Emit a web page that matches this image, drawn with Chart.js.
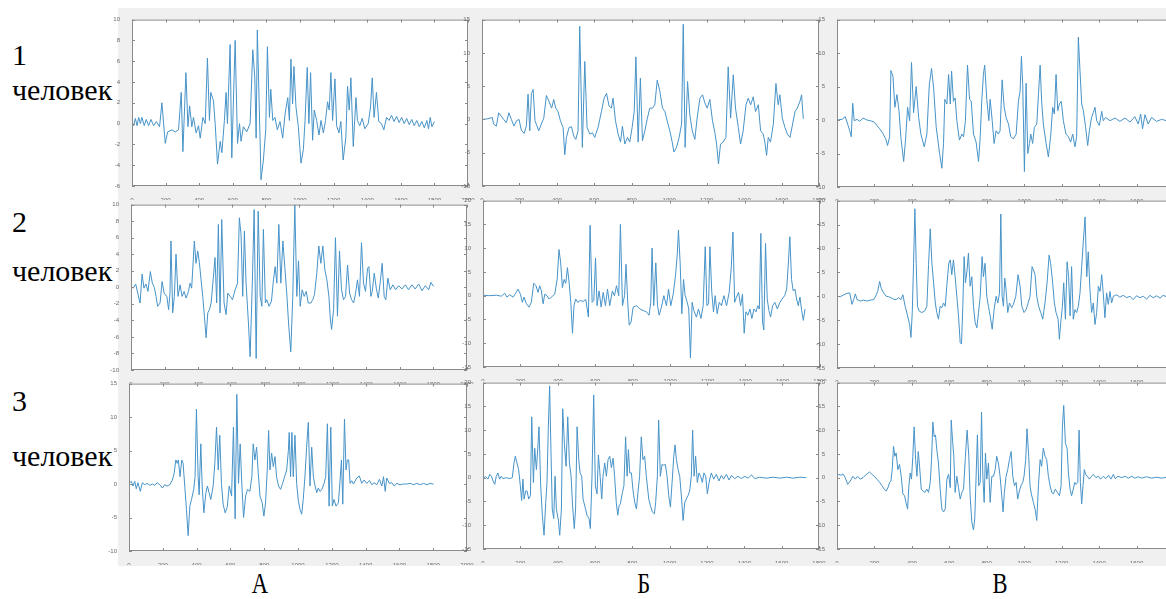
<!DOCTYPE html>
<html>
<head>
<meta charset="utf-8">
<script src="https://cdn.jsdelivr.net/npm/chart.js@4.4.1/dist/chart.umd.min.js"></script>
<style>
    body {
        margin: 0;
        width: 1166px;
        height: 599px;
        overflow: hidden;
        background: #fff;
        position: relative;
        font-family: "Liberation Serif", "DejaVu Serif", "Noto Serif", "Times New Roman", serif;
    }
    #backdrop {
        position: absolute;
        left: 118px;
        top: 8px;
        width: 1048px;
        height: 558px;
        background: #f0f0f0;
    }
    canvas { position: absolute; }
    .label {
        position: absolute;
        color: #000;
        font-size: 30px;
        line-height: 1;
        white-space: nowrap;
    }
    .col {
        position: absolute;
        color: #000;
        font-size: 30px;
        line-height: 1;
        transform: scaleX(0.75);
    }
</style>
</head>
<body>
<div id="backdrop"></div>

<div class="label" style="left:12px; top:40px;">1</div>
<div class="label" style="left:12px; top:75px;">человек</div>
<div class="label" style="left:12px; top:207px;">2</div>
<div class="label" style="left:12px; top:256px;">человек</div>
<div class="label" style="left:12px; top:386px;">3</div>
<div class="label" style="left:12px; top:441px;">человек</div>

<div class="col" style="left:249px; top:568px;">А</div>
<div class="col" style="left:635px; top:568px;">Б</div>
<div class="col" style="left:990px; top:568px;">В</div>

<script>
// signals: [sample, value]
const person1A = [[0,0.2],[10,-0.2],[20,0.5],[30,-0.2],[40,0.6],[50,0],[59,0.6],[73,-0.2],[85,0.4],[99,-0.2],[113,0.4],[129,-0.2],[145,0.2],[164,-0.3],[178,2.0],[198,-1.9],[212,-0.8],[238,-0.6],[257,-0.8],[277,-0.6],[293,3.0],[303,-2.7],[321,4.9],[333,-0.3],[343,1.7],[356,-0.3],[366,0.6],[382,-0.9],[396,-0.2],[406,-1.4],[422,0.6],[436,0],[449,6.3],[461,0.3],[469,3.0],[485,2.2],[495,0],[509,-3.9],[525,-1.7],[535,-2.8],[550,0.3],[560,3.0],[568,0],[584,7.6],[594,-3.3],[614,8.0],[628,-1.9],[640,0],[649,-1.7],[663,-0.3],[683,-0.8],[703,0],[719,7.1],[731,4.4],[739,-1.4],[746,9.0],[758,1.3],[768,-5.4],[782,-3.5],[796,-0.6],[806,7.4],[818,0.6],[826,3.3],[838,0.3],[851,0.6],[865,-0.6],[881,0.2],[897,-1.4],[911,0.9],[927,2.5],[937,0.3],[946,6.2],[956,1.9],[964,5.5],[976,1.6],[990,-0.3],[1006,-3.8],[1020,-2.5],[1030,0.3],[1043,5.4],[1053,0],[1063,4.9],[1075,-1.6],[1085,1.3],[1099,0.3],[1113,-1.1],[1125,0.3],[1139,-0.9],[1152,0.3],[1164,2.1],[1174,1.3],[1184,4.9],[1194,0.3],[1208,4.3],[1218,-0.2],[1232,-0.9],[1243,0.2],[1257,-3.5],[1273,-1.3],[1283,3.6],[1293,1.3],[1303,4.4],[1317,-2.2],[1333,2.5],[1342,0.3],[1356,-0.2],[1370,0.5],[1386,-0.5],[1406,0],[1420,1.6],[1430,4.4],[1441,0.6],[1455,3.0],[1469,0.2],[1485,0],[1499,-0.6],[1515,0.6],[1530,0.3],[1545,0.8],[1560,0.2],[1575,0.7],[1590,0.1],[1605,0.6],[1620,0],[1635,0.5],[1650,-0.1],[1665,0.4],[1680,-0.2],[1695,0.3],[1710,-0.3],[1725,0.2],[1740,-0.4],[1755,0.3],[1765,-0.5],[1775,0.6],[1785,-0.3],[1800,0.2]];

const person1B = [[0,0],[32,0.1],[55,0.3],[62,-0.7],[77,-1.0],[89,1.0],[103,0.5],[116,0],[130,-0.5],[144,1.0],[157,0],[171,-1.0],[184,-0.2],[198,0],[210,-1.6],[225,-2.1],[237,-1.0],[246,3.8],[255,-1.7],[264,3.9],[273,4.5],[283,-0.2],[290,-0.7],[303,-1.7],[317,-0.7],[330,0.2],[344,3.6],[358,2.7],[372,1.7],[383,3.0],[394,1.7],[406,1.2],[419,-0.2],[433,-1.2],[442,-5.3],[451,-2.7],[465,-1.2],[478,-1.1],[490,-2.5],[501,-3.0],[513,-1.7],[522,14.0],[536,-4.2],[549,8.7],[561,-1.2],[576,-2.2],[590,-2.0],[602,-2.7],[620,-1.2],[638,1.2],[652,3.2],[665,3.9],[679,2.0],[691,1.7],[700,3.2],[713,-0.2],[727,-2.2],[740,-3.4],[750,-1.0],[763,-3.7],[777,-2.7],[789,-3.4],[802,-1.2],[813,1.2],[822,9.4],[834,-3.4],[846,6.2],[857,-3.2],[870,-1.7],[882,0],[896,1.7],[911,1.7],[923,2.2],[936,5.9],[950,4.2],[964,1.7],[977,1.2],[989,-0.2],[1003,-1.7],[1016,-3.4],[1025,-4.9],[1039,-4.2],[1053,-2.7],[1066,-0.7],[1075,14.3],[1085,-4.2],[1098,5.7],[1110,0.7],[1123,-1.7],[1137,-3.0],[1149,0.2],[1164,3.2],[1178,3.7],[1190,2.5],[1203,1.7],[1217,3.0],[1231,-0.2],[1244,-2.0],[1253,-3.7],[1263,-6.7],[1274,-3.7],[1288,-3.4],[1303,-2.7],[1315,7.9],[1328,0.2],[1342,6.7],[1354,1.7],[1369,-1.2],[1381,-3.7],[1395,-1.7],[1410,2.2],[1422,3.2],[1435,2.2],[1449,3.4],[1461,1.2],[1476,2.2],[1488,-1.7],[1502,-2.2],[1511,-3.4],[1520,-5.4],[1529,-2.7],[1541,-3.4],[1556,-0.7],[1570,5.4],[1582,2.2],[1591,3.7],[1604,0.2],[1618,-1.2],[1631,-2.2],[1645,-2.7],[1657,-1.0],[1672,1.2],[1684,1.7],[1698,2.7],[1707,3.7],[1716,0.1]];

const person1C = [[0,0],[27,0.1],[44,0.5],[57,-0.6],[68,-1.6],[76,-2.5],[84,2.5],[92,-0.1],[107,0.1],[121,-0.2],[139,0.3],[160,0],[178,-0.1],[199,-0.3],[213,-0.8],[228,-1.3],[245,-2.0],[260,-2.8],[270,-3.8],[281,-2.5],[288,7.4],[299,6.5],[309,1.9],[320,3.8],[331,1.4],[341,-2.5],[356,-6.2],[366,-3.0],[377,1.9],[388,-0.1],[398,8.6],[409,1.1],[423,5.0],[436,0.4],[448,-2.1],[466,-4.0],[480,-2.1],[493,5.3],[505,7.7],[516,4.8],[530,-1.1],[548,-5.0],[560,-7.2],[569,-3.5],[576,3.1],[587,2.4],[596,6.8],[605,2.4],[612,7.3],[622,2.8],[631,3.3],[640,-0.1],[654,-3.0],[667,-2.1],[676,-2.5],[686,-0.1],[697,8.2],[708,3.1],[717,2.8],[729,-2.1],[743,-3.3],[756,-6.2],[765,-2.5],[773,2.8],[782,6.8],[789,8.2],[800,3.1],[811,-0.1],[818,3.1],[829,-0.1],[839,-3.5],[850,-1.6],[862,-2.1],[871,-1.6],[882,6.0],[893,1.9],[903,0.4],[916,-0.6],[928,-2.5],[942,-2.8],[957,-2.1],[969,2.8],[978,4.3],[985,9.5],[992,5.3],[1001,-7.7],[1010,5.5],[1019,-5.0],[1028,-3.5],[1035,-2.1],[1045,-3.5],[1054,-1.1],[1067,-0.6],[1076,3.8],[1085,8.2],[1093,2.8],[1102,-0.6],[1117,-3.5],[1129,-5.5],[1141,-2.5],[1152,1.9],[1161,0.9],[1170,6.8],[1179,1.4],[1188,2.4],[1198,2.8],[1209,-0.1],[1223,-2.1],[1236,-2.5],[1248,-3.3],[1259,-2.1],[1271,-4.0],[1280,-2.5],[1289,12.4],[1298,7.3],[1307,2.4],[1316,1.4],[1328,-1.1],[1339,-3.8],[1348,-1.6],[1360,0.4],[1369,1.1],[1378,1.9],[1387,-0.1],[1401,-0.8],[1414,1.3],[1422,-0.1],[1435,0.4],[1458,-0.1],[1485,0.3],[1511,-0.2],[1538,0.3],[1565,-0.3],[1591,0.5],[1609,-0.6],[1622,0.9],[1632,-1.3],[1645,0.8],[1662,-0.6],[1680,0.4],[1707,-0.2],[1734,0.1],[1760,-0.1]];

const person2A = [[0,0.1],[14,-0.1],[28,0.4],[40,-0.7],[54,-1.9],[66,1.6],[77,-0.1],[89,0.4],[101,-0.5],[115,1.9],[127,0.5],[139,0],[149,-1.1],[159,-2.3],[173,-1.9],[185,0.7],[197,-0.7],[213,-1.1],[224,-2.7],[232,-0.7],[238,5.6],[248,-3.1],[258,-1.1],[268,4.0],[280,-1.1],[292,0.3],[304,-1.1],[316,-0.5],[328,-1.3],[342,-0.5],[352,0.5],[361,-0.1],[371,3.4],[377,5.6],[387,2.9],[397,4.4],[407,3.0],[417,0.9],[427,-1.1],[437,-3.5],[447,-6.1],[457,-3.1],[467,-2.7],[477,-1.9],[489,0.9],[500,3.6],[510,-1.9],[520,7.6],[530,-3.1],[540,8.2],[554,-1.9],[566,-3.3],[576,-0.7],[590,-1.1],[604,-1.5],[620,-0.3],[634,0.5],[645,8.4],[655,6.4],[665,-1.1],[675,6.8],[685,0.5],[699,-4.3],[709,-8.4],[721,-0.3],[733,9.4],[745,-8.6],[757,9.2],[769,-1.1],[779,-2.3],[788,7.0],[800,-1.9],[808,-1.5],[822,-2.3],[836,-1.7],[848,0.9],[858,2.5],[868,0.5],[880,7.6],[892,0.5],[904,5.6],[916,2.3],[927,-0.7],[939,-4.7],[951,-7.8],[963,-1.1],[975,10.0],[987,-1.1],[997,3.2],[1007,-2.3],[1019,-0.3],[1031,-1.1],[1043,-0.5],[1055,-1.9],[1070,-1.9],[1082,-1.5],[1092,-0.9],[1106,1.7],[1118,5.0],[1130,2.9],[1142,5.0],[1154,2.1],[1166,0.9],[1178,-1.1],[1186,-3.7],[1194,-5.1],[1206,-2.7],[1217,6.0],[1229,-3.5],[1241,4.4],[1253,-0.3],[1265,-1.5],[1277,-1.1],[1289,2.7],[1301,-0.7],[1313,-1.5],[1325,-1.9],[1337,-0.7],[1348,0.9],[1360,-1.1],[1372,5.4],[1384,0.5],[1396,-0.5],[1408,2.3],[1416,2.5],[1428,-1.1],[1436,-0.5],[1448,1.7],[1460,-0.1],[1472,-1.3],[1484,0.7],[1495,2.9],[1507,-1.1],[1517,-1.5],[1529,1.1],[1543,-0.3],[1559,0.3],[1575,-0.3],[1593,0.2],[1613,-0.2],[1633,0.3],[1652,-0.3],[1672,0.3],[1692,-0.2],[1712,0.4],[1732,-0.4],[1752,0.2],[1772,-0.3],[1785,0.6],[1801,0.1]];

const person2B = [[0,0.1],[36,0],[71,0.1],[98,-0.1],[116,0.5],[128,-0.3],[143,0.2],[160,-0.3],[178,0.7],[187,1.4],[200,0.3],[210,-1.4],[219,-0.3],[232,-1.7],[246,-2.4],[258,-1.4],[271,2.6],[282,2.2],[294,0.7],[303,2.1],[312,1.0],[321,-1.7],[330,0.3],[342,0],[353,-0.7],[365,-0.3],[383,0.3],[396,3.4],[406,9.7],[415,6.9],[424,1.7],[433,3.4],[442,2.6],[451,5.9],[460,2.8],[469,-1.4],[478,-7.9],[486,-2.1],[495,-0.7],[506,-1.4],[520,-1.0],[535,-1.2],[549,-0.8],[563,-4.5],[572,14.8],[583,-1.4],[592,-1.0],[601,7.9],[609,-2.1],[620,1.0],[631,-2.4],[642,0.7],[654,-2.1],[665,1.4],[677,-2.1],[691,1.0],[702,0],[713,2.1],[725,0],[734,15.0],[745,-2.1],[756,0],[764,6.6],[773,-1.4],[781,-6.2],[791,-5.5],[802,-2.4],[820,-2.1],[838,-2.8],[855,-3.1],[873,-3.4],[887,-4.1],[896,-1.4],[903,10.0],[912,-2.1],[923,6.9],[932,-2.1],[941,-4.1],[953,-2.4],[966,0],[980,-2.1],[991,1.4],[1003,-2.1],[1016,0.3],[1028,4.1],[1037,8.3],[1044,13.8],[1053,6.9],[1062,-3.8],[1071,3.4],[1080,0],[1091,-1.4],[1099,-2.8],[1108,-13.1],[1117,-1.4],[1126,-3.1],[1140,-4.5],[1151,-2.8],[1164,-4.8],[1176,-2.1],[1187,10.3],[1196,-2.1],[1205,-1.7],[1212,10.3],[1222,0.7],[1231,-3.4],[1240,0],[1251,-3.8],[1262,-1.4],[1274,-2.1],[1287,0],[1301,-2.1],[1315,0.7],[1326,5.9],[1335,13.4],[1344,-1.4],[1354,-0.3],[1365,0.7],[1376,-2.1],[1386,0.3],[1395,-7.9],[1404,-3.4],[1415,-4.1],[1426,-2.8],[1436,-4.8],[1447,-2.8],[1458,-3.4],[1468,-2.1],[1476,-2.8],[1484,13.1],[1493,-5.5],[1500,-7.2],[1509,11.0],[1518,-0.7],[1527,-3.1],[1536,-4.5],[1547,-2.1],[1559,-1.4],[1572,-2.8],[1586,-1.4],[1598,-0.7],[1611,0],[1622,1.4],[1631,6.9],[1639,12.4],[1648,3.4],[1657,1.0],[1666,1.4],[1675,-0.7],[1684,-2.1],[1693,-0.3],[1702,-3.1],[1711,-5.2],[1720,-2.8]];

const person2C = [[0,0],[18,-0.1],[36,0.3],[53,0.6],[68,0.7],[80,-1.7],[89,-0.7],[98,0.5],[107,-0.7],[124,-1.0],[142,-0.8],[160,-1.0],[178,-0.8],[196,-0.7],[210,0.3],[217,1.0],[228,3.1],[236,1.7],[249,0.7],[263,0],[276,-0.1],[288,-0.3],[302,-0.6],[316,-0.7],[329,-0.3],[341,-0.7],[352,0.3],[364,-2.1],[377,-4.1],[388,-5.9],[395,-8.6],[402,-3.4],[409,6.9],[416,18.3],[423,6.9],[430,-2.1],[439,-3.1],[453,-3.4],[468,-3.1],[480,-2.1],[489,6.6],[498,14.1],[507,6.9],[516,2.8],[525,-1.4],[533,-3.4],[542,-4.8],[551,-2.1],[560,-2.4],[569,-1.4],[578,-2.1],[587,2.4],[597,6.9],[605,7.6],[613,4.5],[622,7.6],[631,4.1],[640,0],[649,-4.1],[658,-9.7],[665,-10.0],[672,-2.1],[679,8.3],[686,2.8],[695,5.5],[702,9.0],[711,2.1],[720,4.1],[729,-2.1],[738,-5.5],[747,-6.6],[756,-3.4],[765,0],[775,8.3],[782,4.1],[791,6.9],[800,0],[809,-2.1],[818,-4.1],[829,-6.9],[839,-2.8],[850,0],[859,-1.4],[868,0.7],[875,17.2],[882,0],[889,-2.1],[896,3.8],[903,1.4],[912,-3.4],[921,-1.4],[933,-2.4],[942,-1.7],[955,0],[967,4.5],[978,2.1],[987,-2.1],[999,-3.4],[1010,-2.8],[1021,-1.4],[1031,0],[1042,6.2],[1049,5.5],[1058,4.5],[1067,0],[1077,-2.1],[1088,-3.4],[1099,-4.8],[1111,-1.4],[1122,2.8],[1133,8.6],[1141,6.9],[1152,2.8],[1161,-1.4],[1170,-3.4],[1181,-4.8],[1188,-9.0],[1195,-5.5],[1204,-2.1],[1211,2.8],[1220,-4.8],[1229,7.2],[1237,4.1],[1245,-4.1],[1253,6.2],[1262,-4.8],[1271,-2.8],[1280,-3.4],[1289,-2.1],[1298,0.7],[1307,6.2],[1316,11.7],[1325,16.6],[1334,4.1],[1342,9.3],[1351,1.4],[1360,-3.4],[1369,-1.4],[1378,-5.9],[1387,-3.4],[1396,2.1],[1405,1.0],[1414,4.5],[1422,0.7],[1431,-4.5],[1440,0.7],[1449,-1.7],[1458,1.0],[1467,-1.4],[1476,0],[1494,0.3],[1511,-0.2],[1529,0.2],[1547,-0.3],[1565,0],[1582,-0.7],[1600,0.1],[1618,-0.3],[1636,0],[1654,-0.6],[1671,0.2],[1689,-0.3],[1707,0.1],[1725,-0.4],[1742,0.2],[1760,-0.1]];

const person3A = [[0,0.1],[14,0.4],[24,-0.3],[34,0.4],[43,-0.7],[53,0.2],[67,-1.1],[79,0.2],[93,-0.1],[107,0.1],[123,-0.2],[138,0],[152,-0.2],[166,0.2],[182,-0.1],[198,-0.6],[211,-0.1],[225,-0.3],[241,-0.1],[257,0.6],[267,1.6],[277,3.6],[285,3.1],[292,3.6],[302,1.1],[312,3.6],[320,3.1],[330,-0.3],[340,-3.8],[350,-7.7],[360,-3.3],[370,-2.3],[383,-0.8],[391,1.1],[399,11.2],[409,1.1],[415,-1.6],[425,6.0],[433,-0.3],[443,-4.3],[455,-1.3],[464,-0.3],[474,-1.3],[484,-2.3],[498,-0.3],[508,3.1],[518,8.5],[528,2.1],[537,7.3],[547,0.1],[557,-3.0],[569,-4.3],[581,-3.5],[593,-0.3],[607,-1.8],[618,8.5],[628,-5.2],[638,13.4],[648,0.1],[658,6.0],[668,-0.3],[678,-5.0],[690,-1.8],[701,-0.8],[715,-1.1],[727,1.1],[735,6.0],[745,3.6],[755,5.5],[765,1.6],[775,-1.8],[788,-2.8],[798,-4.8],[808,-2.8],[818,2.1],[826,8.0],[834,2.1],[844,4.6],[854,2.6],[864,4.1],[873,1.1],[885,-0.3],[897,-0.8],[909,0.1],[921,1.1],[933,2.1],[943,5.0],[948,7.7],[956,1.1],[964,7.7],[972,1.1],[982,7.3],[992,0.1],[1002,-2.5],[1012,-3.8],[1022,-4.5],[1031,-2.3],[1041,1.1],[1051,5.5],[1061,9.2],[1071,-0.3],[1081,5.5],[1091,1.1],[1101,-0.3],[1111,-1.3],[1120,-0.6],[1130,-1.1],[1142,-0.8],[1154,0.1],[1164,1.1],[1174,9.0],[1184,-3.3],[1194,8.5],[1203,-3.3],[1213,-2.3],[1225,-3.3],[1239,-2.8],[1249,0.6],[1257,3.6],[1265,-3.0],[1275,9.7],[1284,2.1],[1292,3.6],[1300,3.6],[1308,0.1],[1318,0.5],[1328,0],[1348,0.9],[1363,1.2],[1377,0.1],[1391,0.6],[1407,0.1],[1423,0.5],[1437,-0.1],[1450,0.2],[1466,-0.1],[1482,0.7],[1496,-0.3],[1506,1.1],[1516,-1.1],[1525,0.9],[1541,0.1],[1555,0.2],[1569,-0.3],[1585,0.1],[1604,-0.1],[1624,0],[1644,0],[1664,0.1],[1684,-0.1],[1703,0.1],[1723,-0.1],[1743,0.1],[1763,-0.1],[1782,0.1],[1802,0]];

const person3B = [[0,0],[14,0.2],[27,-0.3],[36,0.7],[45,0.3],[54,-0.7],[63,-1.4],[71,0.3],[80,1.0],[89,-0.3],[98,0.3],[107,-0.2],[125,0],[143,-0.2],[157,0],[166,3.1],[173,4.5],[182,3.1],[191,1.7],[200,-1.7],[207,-4.8],[214,-0.3],[220,-4.5],[229,-2.8],[236,-2.8],[245,-4.5],[254,-3.8],[261,12.8],[270,-1.0],[277,6.2],[286,1.7],[295,7.2],[300,10.7],[309,-1.7],[318,-7.9],[327,-12.1],[336,-5.2],[343,-1.0],[350,10.7],[357,19.3],[364,5.9],[371,-6.6],[379,-8.6],[386,0.3],[393,-6.6],[404,-9.0],[411,-12.1],[420,-6.6],[427,14.5],[436,7.2],[445,2.4],[454,12.8],[463,3.1],[472,0.3],[480,-5.9],[489,-10.7],[496,-6.6],[504,10.7],[513,3.8],[520,1.0],[529,0.3],[536,-4.5],[547,-6.2],[557,-7.9],[568,-8.6],[575,-10.7],[584,0.3],[593,17.4],[602,-1.7],[611,-3.4],[618,4.8],[625,1.7],[636,-4.5],[643,0.3],[652,3.1],[661,0.3],[670,3.8],[679,4.5],[688,2.1],[697,4.1],[705,0.3],[714,-5.2],[722,-7.9],[729,-5.9],[736,-5.5],[747,-3.1],[755,-1.7],[764,8.6],[772,0.3],[779,5.9],[786,1.0],[795,1.0],[804,-2.8],[813,-5.2],[822,-6.6],[830,-3.1],[839,0.3],[848,8.6],[857,3.8],[866,4.5],[875,0.3],[888,-4.5],[897,-5.9],[907,-7.2],[918,-7.6],[925,-5.2],[934,0.3],[941,12.1],[950,0.3],[959,2.8],[968,2.6],[977,2.8],[986,0.3],[995,-3.8],[1004,-6.2],[1013,-1.0],[1022,4.5],[1029,6.9],[1036,3.8],[1045,1.7],[1054,0.3],[1064,-4.5],[1072,-9.0],[1081,-5.2],[1089,-4.5],[1098,-3.8],[1107,-2.8],[1116,0.3],[1123,10.0],[1131,0.3],[1139,4.5],[1148,-1.0],[1157,1.0],[1166,0.3],[1175,-1.0],[1184,1.0],[1193,0.3],[1202,-3.4],[1211,-1.0],[1223,1.0],[1236,-0.3],[1250,0.7],[1264,-0.7],[1277,0.5],[1289,-0.3],[1304,0.7],[1318,-0.5],[1331,0.5],[1348,-0.2],[1366,0.3],[1384,-0.2],[1402,0.3],[1420,-0.1],[1438,0.6],[1456,-0.2],[1482,0.1],[1518,-0.1],[1554,0.1],[1590,-0.1],[1625,0.1],[1661,-0.1],[1697,0.1],[1732,0]];

const person3C = [[0,0.3],[9,0.7],[21,0.5],[32,0.8],[44,0],[57,-1.4],[71,-0.7],[85,0.3],[98,-0.3],[110,0.3],[124,-0.3],[139,0],[151,0.5],[164,0.9],[174,1.2],[187,0.7],[199,0.3],[213,-0.3],[228,-1.0],[240,-1.7],[252,-2.4],[263,-2.8],[272,-2.1],[281,-1.0],[288,-0.7],[295,1.7],[302,6.6],[309,4.5],[316,5.2],[325,1.7],[334,2.8],[343,0.3],[352,-3.4],[361,-3.8],[370,-5.5],[377,-6.6],[384,-1.7],[391,1.0],[398,-0.3],[405,4.5],[412,10.7],[420,3.8],[427,0.3],[434,5.5],[441,2.4],[450,-2.4],[459,-2.8],[469,-3.1],[480,-2.4],[489,-3.1],[498,-1.0],[505,3.8],[512,11.7],[519,8.6],[526,9.0],[533,5.9],[542,3.1],[551,-2.4],[560,-6.6],[569,-7.2],[578,-6.6],[587,-0.3],[596,0.7],[605,-2.1],[610,12.1],[617,7.9],[624,4.5],[631,-3.1],[640,0.3],[649,-2.1],[658,-4.5],[667,-3.1],[676,-2.4],[686,4.5],[695,10.0],[704,4.5],[711,-3.8],[720,-9.3],[729,-11.0],[736,-8.6],[743,0.3],[750,9.0],[757,-1.7],[765,-1.0],[772,13.8],[779,0.3],[786,-5.2],[793,5.2],[800,-0.3],[809,3.1],[818,-5.2],[827,0.3],[836,0.3],[845,1.7],[853,4.5],[862,3.1],[871,0.3],[880,-3.8],[887,-7.2],[894,-3.1],[903,0.3],[912,1.7],[921,3.8],[930,5.5],[939,0.3],[948,-1.7],[957,-1.0],[965,-4.5],[974,-2.8],[983,-1.7],[992,-1.0],[999,0.3],[1008,3.8],[1015,10.3],[1024,4.5],[1031,-1.7],[1038,-3.4],[1049,-5.2],[1058,-6.6],[1067,-9.0],[1076,-1.7],[1085,3.8],[1093,2.4],[1102,6.2],[1111,4.5],[1120,3.8],[1129,0.3],[1138,-1.7],[1147,-3.1],[1156,-3.4],[1166,-2.4],[1177,-3.1],[1188,-3.8],[1197,-1.7],[1204,10.7],[1211,15.2],[1220,7.2],[1229,6.2],[1236,1.0],[1245,-2.4],[1253,-3.8],[1262,-2.4],[1270,-1.0],[1277,-1.4],[1286,-1.0],[1293,10.0],[1300,-1.0],[1307,-5.5],[1314,-1.7],[1321,1.7],[1328,0.7],[1337,0.3],[1348,-0.3],[1360,0.3],[1369,0.7],[1383,0],[1396,0.3],[1408,-0.3],[1422,0.3],[1436,-0.2],[1451,0.5],[1463,-0.3],[1476,0.7],[1486,-0.2],[1501,0.3],[1520,0],[1538,0.3],[1556,-0.1],[1574,0.3],[1591,-0.1],[1609,0.2],[1627,-0.1],[1654,0.2],[1680,-0.1],[1707,0.1],[1734,-0.1],[1760,0.1]];

// axis ranges per panel
const xMaxA = 2000, xMaxBC = 1800, xStep = 200;

// page layout (plot box in page pixels)
const panels = [
    { data: person1A, left: 132, top: 17, right: 468, bottom: 186, xMax: xMaxA, yMin: -6, yMax: 10, yStep: 2 },
    { data: person1B, left: 482, top: 17, right: 819, bottom: 186, xMax: xMaxBC, yMin: -10, yMax: 15, yStep: 5 },
    { data: person1C, left: 837, top: 17, right: 1174, bottom: 187, xMax: xMaxBC, yMin: -10, yMax: 15, yStep: 5 },
    { data: person2A, left: 131, top: 202, right: 467, bottom: 370, xMax: xMaxA, yMin: -10, yMax: 10, yStep: 2 },
    { data: person2B, left: 483, top: 198, right: 820, bottom: 367, xMax: xMaxBC, yMin: -15, yMax: 20, yStep: 5 },
    { data: person2C, left: 837, top: 198, right: 1174, bottom: 368, xMax: xMaxBC, yMin: -15, yMax: 20, yStep: 5 },
    { data: person3A, left: 129, top: 381, right: 467, bottom: 551, xMax: xMaxA, yMin: -10, yMax: 15, yStep: 5 },
    { data: person3B, left: 483, top: 380, right: 819, bottom: 549, xMax: xMaxBC, yMin: -15, yMax: 20, yStep: 5 },
    { data: person3C, left: 837, top: 380, right: 1174, bottom: 549, xMax: xMaxBC, yMin: -15, yMax: 20, yStep: 5 }
];

const PAD_L = 24, PAD_R = 14, PAD_T = 5, PAD_B = 14;

// white plot box, grey frame and inward ticks on all four sides (matlab look)
const boxPlugin = {
    id: 'matlabBox',
    beforeDraw(chart) {
        const { ctx, chartArea: a } = chart;
        ctx.save();
        ctx.fillStyle = '#ffffff';
        ctx.fillRect(a.left, a.top, a.width, a.height);
        ctx.restore();
    },
    afterDraw(chart) {
        const { ctx, chartArea: a, scales } = chart;
        ctx.save();
        ctx.strokeStyle = '#8a8a8a';
        ctx.lineWidth = 1;
        ctx.strokeRect(a.left + 0.5, a.top + 0.5, a.width - 1, a.height - 1);
        ctx.beginPath();
        scales.x.ticks.forEach(t => {
            const px = Math.round(scales.x.getPixelForValue(t.value)) + 0.5;
            ctx.moveTo(px, a.bottom); ctx.lineTo(px, a.bottom - 3);
            ctx.moveTo(px, a.top); ctx.lineTo(px, a.top + 3);
        });
        scales.y.ticks.forEach(t => {
            const py = Math.round(scales.y.getPixelForValue(t.value)) + 0.5;
            ctx.moveTo(a.left, py); ctx.lineTo(a.left + 3, py);
            ctx.moveTo(a.right, py); ctx.lineTo(a.right - 3, py);
        });
        ctx.stroke();
        ctx.restore();
    }
};

const tickFont = { family: 'Liberation Sans', size: 6 };
const plainNumber = v => String(v);

function makeChart(p) {
    const canvas = document.createElement('canvas');
    const w = p.right - p.left + PAD_L + PAD_R;
    const h = p.bottom - p.top + PAD_T + PAD_B;
    canvas.width = w;
    canvas.height = h;
    canvas.style.width = w + 'px';
    canvas.style.height = h + 'px';
    canvas.style.left = (p.left - PAD_L) + 'px';
    canvas.style.top = (p.top - PAD_T) + 'px';
    document.body.appendChild(canvas);

    return new Chart(canvas, {
        type: 'line',
        data: {
            datasets: [{
                data: p.data.map(([x, y]) => ({ x, y })),
                borderColor: '#4793c8',
                borderWidth: 1,
                pointRadius: 0,
                tension: 0,
                fill: false
            }]
        },
        options: {
            responsive: false,
            animation: false,
            devicePixelRatio: 1,
            layout: { padding: { top: PAD_T, right: PAD_R, left: 0, bottom: 0 } },
            plugins: { legend: { display: false }, tooltip: { enabled: false } },
            scales: {
                x: {
                    type: 'linear',
                    min: 0,
                    max: p.xMax,
                    grid: { display: false },
                    border: { display: false },
                    afterFit: s => { s.height = PAD_B; },
                    ticks: {
                        stepSize: xStep,
                        includeBounds: false,
                        autoSkip: false,
                        maxRotation: 0,
                        padding: 3,
                        color: '#6a6a6a',
                        font: tickFont,
                        callback: plainNumber
                    }
                },
                y: {
                    min: p.yMin,
                    max: p.yMax,
                    grid: { display: false },
                    border: { display: false },
                    afterFit: s => { s.width = PAD_L; },
                    ticks: {
                        stepSize: p.yStep,
                        padding: 4,
                        color: '#6a6a6a',
                        font: tickFont,
                        callback: plainNumber
                    }
                }
            }
        },
        plugins: [boxPlugin]
    });
}

panels.forEach(makeChart);
</script>
</body>
</html>
